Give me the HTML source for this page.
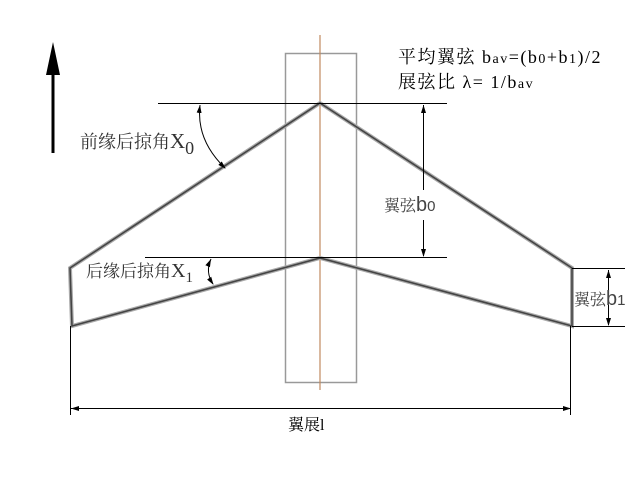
<!DOCTYPE html>
<html><head><meta charset="utf-8"><style>
body{margin:0;background:#fff;}
svg{display:block}
text{font-family:"Liberation Serif","Noto Serif CJK SC",serif;}
</style></head><body>
<svg width="640" height="480" viewBox="0 0 640 480" xmlns="http://www.w3.org/2000/svg">
<defs>
<marker id="a" markerWidth="8" markerHeight="8" refX="7" refY="4" orient="auto" markerUnits="userSpaceOnUse"><path d="M0,1.5 L8,4 L0,6.5 z" fill="#000"/></marker>
<marker id="as" markerWidth="8" markerHeight="8" refX="0" refY="4" orient="auto" markerUnits="userSpaceOnUse"><path d="M8,1.5 L0,4 L8,6.5 z" fill="#000"/></marker>
</defs>
<rect x="285.5" y="53.5" width="71" height="329" fill="none" stroke="#999" stroke-width="1.5"/>
<line x1="320" y1="35" x2="320" y2="390" stroke="#c08a60" stroke-width="1.2"/>
<polygon points="320,103 572,268 572,326 320,258 72,326 70,268" fill="none" stroke="#aaa" stroke-width="4" stroke-linejoin="miter"/>
<polygon points="320,103 572,268 572,326 320,258 72,326 70,268" fill="none" stroke="#444" stroke-width="1.6"/>
<g stroke="#000" stroke-width="1" fill="none">
<line x1="158" y1="103.5" x2="447" y2="103.5"/>
<line x1="145" y1="257.5" x2="447" y2="257.5"/>
<line x1="423.5" y1="105" x2="423.5" y2="190" marker-start="url(#as)"/>
<line x1="423.5" y1="220" x2="423.5" y2="256" marker-end="url(#a)"/>
<line x1="572" y1="268.5" x2="625" y2="268.5"/>
<line x1="572" y1="326.5" x2="625" y2="326.5"/>
<line x1="608.5" y1="270" x2="608.5" y2="290" marker-start="url(#as)"/>
<line x1="608.5" y1="305" x2="608.5" y2="325" marker-end="url(#a)"/>
<line x1="70.5" y1="326" x2="70.5" y2="415"/>
<line x1="570.5" y1="326" x2="570.5" y2="415"/>
<line x1="71" y1="408.5" x2="570" y2="408.5" marker-start="url(#as)" marker-end="url(#a)"/>
<path d="M200,105 Q196,140 225,168" marker-start="url(#as)" marker-end="url(#a)"/>
<path d="M211,259 Q205,272 213,284" marker-start="url(#as)" marker-end="url(#a)"/>
</g>
<line x1="53" y1="70" x2="53" y2="153" stroke="#000" stroke-width="3"/>
<polygon points="53,42 46,75 60,75" fill="#000"/>
<text x="398" y="63" font-size="18" fill="#000" letter-spacing="1.5">平均翼弦 b<tspan font-size="14">av</tspan>=(b<tspan font-size="14">0</tspan>+b<tspan font-size="14">1</tspan>)/2</text>
<text x="398" y="88" font-size="18" fill="#000" letter-spacing="1.5">展弦比 λ= 1/b<tspan font-size="14">av</tspan></text>
<text x="80" y="148" font-size="18" fill="#333">前缘后掠角<tspan font-size="21">X</tspan><tspan font-size="18" dy="6">0</tspan></text>
<text x="86" y="277" font-size="17" fill="#333">后缘后掠角<tspan font-size="20">X</tspan><tspan font-size="15" dy="5">1</tspan></text>
<text x="384" y="211" font-size="16" fill="#444">翼弦<tspan font-family="Liberation Sans,sans-serif" font-size="20">b</tspan><tspan font-family="Liberation Sans,sans-serif" font-size="15">0</tspan></text>
<text x="574" y="305" font-size="16" fill="#444">翼弦<tspan font-family="Liberation Sans,sans-serif" font-size="20">b</tspan><tspan font-family="Liberation Sans,sans-serif" font-size="15">1</tspan></text>
<text x="288" y="430" font-size="16" fill="#000">翼展l</text>
</svg>
</body></html>
